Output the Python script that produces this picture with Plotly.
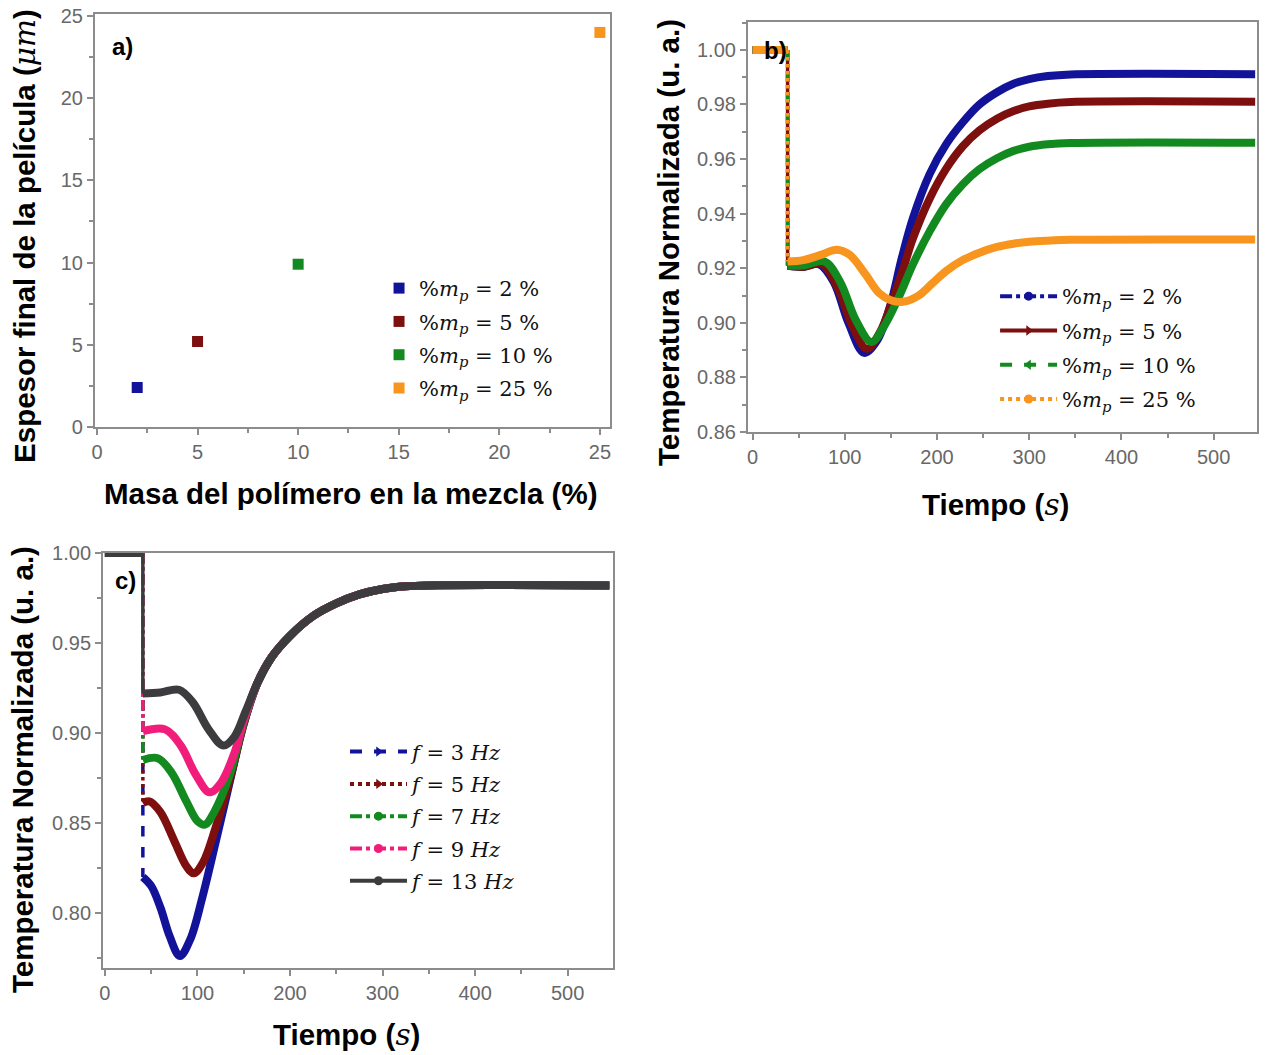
import plotly.graph_objects as go

# ---------------- DATA ----------------
# Panel a) final film thickness vs polymer mass
a_mass = [2, 5, 10, 25]
a_thickness = [2.4, 5.2, 9.9, 24.0]
a_names = ["%<i>m</i><sub><i>p</i></sub> = 2 %", "%<i>m</i><sub><i>p</i></sub> = 5 %",
           "%<i>m</i><sub><i>p</i></sub> = 10 %", "%<i>m</i><sub><i>p</i></sub> = 25 %"]

# Panel b) normalized temperature vs time for several polymer mass fractions
b_drop_time = 38
b_pre_t = [0, 38]
b_pre_T = [1.0, 1.0]
b_t_2 = [38, 55, 72, 88, 104, 121, 135, 149, 162, 174, 192, 210, 228, 246, 265, 283, 300, 320, 345, 545]
b_T_2 = [0.921, 0.9205, 0.9215, 0.915, 0.900, 0.889, 0.8935, 0.906, 0.924, 0.9385, 0.9545, 0.9655,
         0.9735, 0.980, 0.9845, 0.9876, 0.9893, 0.9904, 0.991, 0.9911]
b_t_5 = [38, 55, 75, 92, 108, 124, 138, 152, 163, 174, 192, 210, 228, 246, 265, 283, 300, 320, 345, 545]
b_T_5 = [0.921, 0.9205, 0.9215, 0.913, 0.899, 0.8905, 0.8965, 0.9085, 0.9195, 0.931, 0.9455, 0.9565,
         0.9647, 0.9705, 0.9748, 0.9776, 0.9793, 0.9803, 0.9809, 0.981]
b_t_10 = [38, 55, 78, 95, 112, 129, 143, 158, 174, 192, 210, 228, 246, 265, 283, 300, 320, 345, 545]
b_T_10 = [0.921, 0.921, 0.9225, 0.915, 0.901, 0.893, 0.899, 0.909, 0.9215, 0.9335, 0.9435, 0.9508,
          0.9563, 0.9603, 0.963, 0.9645, 0.9654, 0.9659, 0.966]
b_t_25 = [38, 55, 75, 91, 105, 122, 137, 150, 163, 180, 195, 210, 228, 246, 265, 283, 300, 320, 345, 545]
b_T_25 = [0.9225, 0.923, 0.925, 0.9268, 0.925, 0.918, 0.911, 0.9083, 0.9077, 0.910, 0.9145, 0.919,
          0.923, 0.9257, 0.9278, 0.929, 0.9297, 0.9301, 0.9304, 0.9305]
b_names = a_names

# Panel c) normalized temperature vs time for several frequencies
c_drop_time = 41
c_pre_t = [0, 41]
c_pre_T = [1.0, 1.0]
c_t_3 = [41, 50, 60, 70, 81, 92, 105, 120, 135, 150, 165, 180, 200, 225, 250, 275, 300, 325, 350, 545]
c_T_3 = [0.820, 0.815, 0.803, 0.787, 0.776, 0.785, 0.808, 0.840, 0.873, 0.905, 0.928, 0.942, 0.954,
         0.965, 0.972, 0.977, 0.980, 0.9815, 0.982, 0.982]
c_t_5 = [41, 48, 60, 75, 88, 96, 106, 120, 135, 150, 165, 180, 200, 225, 250, 275, 300, 325, 350, 545]
c_T_5 = [0.861, 0.862, 0.856, 0.840, 0.826, 0.822, 0.828, 0.848, 0.874, 0.905, 0.928, 0.942, 0.954,
         0.965, 0.972, 0.977, 0.980, 0.9815, 0.982, 0.982]
c_t_7 = [41, 57, 72, 88, 100, 108, 118, 135, 150, 165, 180, 200, 225, 250, 275, 300, 325, 350, 545]
c_T_7 = [0.885, 0.886, 0.878, 0.862, 0.851, 0.849, 0.856, 0.877, 0.906, 0.928, 0.942, 0.954,
         0.965, 0.972, 0.977, 0.980, 0.9815, 0.982, 0.982]
c_t_9 = [41, 65, 82, 98, 113, 125, 140, 150, 165, 180, 200, 225, 250, 275, 300, 325, 350, 545]
c_T_9 = [0.901, 0.902, 0.893, 0.877, 0.867, 0.872, 0.889, 0.907, 0.928, 0.942, 0.954,
         0.965, 0.972, 0.977, 0.980, 0.9815, 0.982, 0.982]
c_t_13 = [41, 60, 80, 95, 112, 128, 140, 152, 165, 180, 200, 225, 250, 275, 300, 325, 350, 545]
c_T_13 = [0.922, 0.9225, 0.924, 0.917, 0.902, 0.893, 0.898, 0.912, 0.928, 0.942, 0.954,
          0.965, 0.972, 0.977, 0.980, 0.9815, 0.982, 0.982]
c_names = ["<i>f</i> = 3 <i>Hz</i>", "<i>f</i> = 5 <i>Hz</i>", "<i>f</i> = 7 <i>Hz</i>",
           "<i>f</i> = 9 <i>Hz</i>", "<i>f</i> = 13 <i>Hz</i>"]

# ---------------- STYLE ----------------
BLUE, RED, GREEN, ORANGE, PINK, GRAY = "#13139a", "#7d0f0f", "#138a1f", "#f7951e", "#f01e7a", "#3c3c3e"
AXC = "#8c8c8c"
TICKC = "#686868"
SANS = "Liberation Sans, Arial, sans-serif"
SERIF = "DejaVu Serif, serif"
LW = 8

fig = go.Figure()

# ---- Panel a ----
for xm, yt, col, nm in zip(a_mass, a_thickness, [BLUE, RED, GREEN, ORANGE], a_names):
    fig.add_trace(go.Scatter(x=[xm], y=[yt], mode="markers", name=nm, legend="legend",
                             legendgroup="a" + nm,
                             marker=dict(symbol="square", size=11, color=col),
                             xaxis="x", yaxis="y"))

# ---- Panel b ----
b_series = [(b_t_2, b_T_2, BLUE, "dashdot", "circle"),
            (b_t_5, b_T_5, RED, "solid", "triangle-right"),
            (b_t_10, b_T_10, GREEN, "dash", "triangle-left"),
            (b_t_25, b_T_25, ORANGE, "dot", "circle")]
for (tt, TT, col, dash, sym), nm in zip(b_series, b_names):
    fig.add_trace(go.Scatter(x=b_pre_t, y=b_pre_T, mode="lines", line=dict(color=col, width=LW),
                             showlegend=False, xaxis="x2", yaxis="y2"))
    fig.add_trace(go.Scatter(x=[b_drop_time, b_drop_time], y=[b_pre_T[-1], TT[0]], mode="lines",
                             line=dict(color=col, width=3.5, dash=dash),
                             showlegend=False, xaxis="x2", yaxis="y2"))
    fig.add_trace(go.Scatter(x=tt, y=TT, mode="lines", line=dict(color=col, width=LW, shape="spline",
                             smoothing=1.0), showlegend=False, xaxis="x2", yaxis="y2"))
for (tt, TT, col, dash, sym), nm in zip(b_series, b_names):
    fig.add_trace(go.Scatter(x=[None], y=[None], mode="lines+markers", name=nm, legend="legend2",
                             legendgroup="b" + nm,
                             line=dict(color=col, width=4, dash=dash),
                             marker=dict(symbol=sym, size=9, color=col),
                             xaxis="x2", yaxis="y2"))

# ---- Panel c ----
c_series = [(c_t_3, c_T_3, BLUE, "dash", "triangle-right"),
            (c_t_5, c_T_5, RED, "dot", "triangle-right"),
            (c_t_7, c_T_7, GREEN, "dashdot", "circle"),
            (c_t_9, c_T_9, PINK, "dashdot", "circle"),
            (c_t_13, c_T_13, GRAY, "solid", "circle")]
for (tt, TT, col, dash, sym), nm in zip(c_series, c_names):
    fig.add_trace(go.Scatter(x=c_pre_t, y=c_pre_T, mode="lines", line=dict(color=col, width=LW),
                             showlegend=False, xaxis="x3", yaxis="y3"))
    fig.add_trace(go.Scatter(x=[c_drop_time, c_drop_time], y=[c_pre_T[-1], TT[0]], mode="lines",
                             line=dict(color=col, width=3.5, dash=dash),
                             showlegend=False, xaxis="x3", yaxis="y3"))
    fig.add_trace(go.Scatter(x=tt, y=TT, mode="lines", line=dict(color=col, width=LW, shape="spline",
                             smoothing=1.0), showlegend=False, xaxis="x3", yaxis="y3"))
for (tt, TT, col, dash, sym), nm in zip(c_series, c_names):
    fig.add_trace(go.Scatter(x=[None], y=[None], mode="lines+markers", name=nm, legend="legend3",
                             legendgroup="c" + nm,
                             line=dict(color=col, width=4, dash=dash),
                             marker=dict(symbol=sym, size=9, color=col),
                             xaxis="x3", yaxis="y3"))


def axis(domain, rng, tickvals, fmt, minor_dtick, anchor):
    return dict(domain=domain, range=rng, tickvals=tickvals, tickformat=fmt,
                showline=True, linecolor=AXC, linewidth=2, mirror=True,
                ticks="outside", ticklen=6, tickwidth=2, tickcolor=AXC,
                minor=dict(ticks="outside", ticklen=4, tickwidth=1.5, tickcolor=AXC, dtick=minor_dtick),
                showgrid=False, zeroline=False, automargin=False,
                tickfont=dict(family=SANS, size=20, color=TICKC), anchor=anchor)


fig.update_layout(
    width=1266, height=1055,
    margin=dict(l=0, r=0, t=0, b=0, autoexpand=False),
    paper_bgcolor="white", plot_bgcolor="white",
    showlegend=True,
    xaxis=axis([0.0750, 0.4818], [-0.1, 25.5], [0, 5, 10, 15, 20, 25], "d", 2.5, "y"),
    yaxis=axis([0.5953, 0.9867], [0, 25.12], [0, 5, 10, 15, 20, 25], "d", 2.5, "x"),
    xaxis2=axis([0.5908, 0.9929], [-5, 547], [0, 100, 200, 300, 400, 500], "d", 50, "y2"),
    yaxis2=axis([0.5905, 0.9791], [0.86, 1.0102], [0.86, 0.88, 0.90, 0.92, 0.94, 0.96, 0.98, 1.00],
                ".2f", 0.01, "x2"),
    xaxis3=axis([0.0814, 0.4842], [-2, 549], [0, 100, 200, 300, 400, 500], "d", 50, "y3"),
    yaxis3=axis([0.0825, 0.4758], [0.7694, 1.0], [0.80, 0.85, 0.90, 0.95, 1.00], ".2f", 0.025, "x3"),
    legend=dict(x=0.2994, y=0.746, xanchor="left", yanchor="top", bgcolor="rgba(0,0,0,0)",
                font=dict(family=SERIF, size=21, color="#111"), tracegroupgap=3),
    legend2=dict(x=0.786, y=0.7384, xanchor="left", yanchor="top", bgcolor="rgba(0,0,0,0)",
                 font=dict(family=SERIF, size=21, color="#111"), tracegroupgap=4, itemwidth=57),
    legend3=dict(x=0.2725, y=0.3067, xanchor="left", yanchor="top", bgcolor="rgba(0,0,0,0)",
                 font=dict(family=SERIF, size=21, color="#111"), tracegroupgap=2, itemwidth=57),
)

NORMAL_I = "<span style='font-family:DejaVu Serif;font-weight:normal;font-style:italic'>%s</span>"
title_font = dict(family=SANS, size=29.5, color="black", weight="bold")
annos = [
    # axis titles
    dict(x=0.2765, y=0.5318, text="Masa del polímero en la mezcla (%)", textangle=0),
    dict(x=0.0197, y=0.7763, text="Espesor final de la película (" + NORMAL_I % "μm" + ")", textangle=-90),
    dict(x=0.786, y=0.5213, text="Tiempo (" + NORMAL_I % "s" + ")", textangle=0),
    dict(x=0.5276, y=0.7706, text="Temperatura Normalizada (u. a.)", textangle=-90),
    dict(x=0.274, y=0.019, text="Tiempo (" + NORMAL_I % "s" + ")", textangle=0),
    dict(x=0.0174, y=0.2701, text="Temperatura Normalizada (u. a.)", textangle=-90),
]
for a in annos:
    fig.add_annotation(xref="paper", yref="paper", xanchor="center", yanchor="middle",
                       showarrow=False, font=title_font, **a)

panel_font = dict(family=SANS, size=24, color="black", weight="bold")
for txt, px, py in [("a)", 0.0964, 0.9555), ("b)", 0.6122, 0.9526), ("c)", 0.0995, 0.4502)]:
    fig.add_annotation(xref="paper", yref="paper", x=px, y=py, text=txt, showarrow=False,
                       xanchor="center", yanchor="middle", font=panel_font)

fig.write_html("out.html")
